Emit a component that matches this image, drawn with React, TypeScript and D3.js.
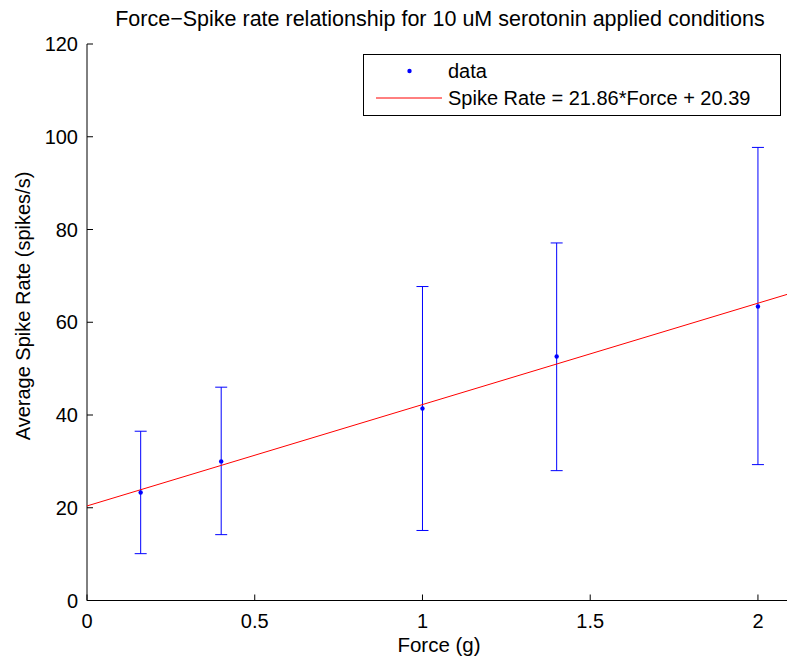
import React from "react";
import * as d3 from "d3";

const forces = [0.16, 0.4, 1.0, 1.4, 2.0];
const meanRates = [23.3, 30.0, 41.4, 52.6, 63.4];
const upperRates = [36.5, 46.0, 67.7, 77.1, 97.7];
const lowerRates = [10.1, 14.2, 15.1, 28.0, 29.3];
const slope = 21.86;
const intercept = 20.39;
const xTicks = [0, 0.5, 1, 1.5, 2];
const yTicks = [0, 20, 40, 60, 80, 100, 120];

const W = 787;
const H = 662;
const left = 87;
const right = 791.5;
const top = 44;
const bottom = 600.5;
const font = "'Liberation Sans', Arial, sans-serif";
const fs = 20;

export default function App() {
  const x = d3.scaleLinear().domain([0, 2.1]).range([left, right]);
  const y = d3.scaleLinear().domain([0, 120]).range([bottom, top]);
  const line = d3
    .line<number>()
    .x((d) => x(d))
    .y((d) => y(slope * d + intercept));
  const capW = 6;
  return (
    <svg
      width={W}
      height={H}
      style={{ position: "absolute", left: 0, top: 0, background: "#fff" }}
      fontFamily={font}
    >
      <rect x={0} y={0} width={W} height={H} fill="#fff" />
      <text x={440} y={26} textAnchor="middle" fontSize={21.5} fill="#000">
        Force−Spike rate relationship for 10 uM serotonin applied conditions
      </text>
      {/* axes */}
      <line x1={left} x2={right} y1={bottom} y2={bottom} stroke="#000" strokeWidth={1} />
      <line x1={left} x2={left} y1={top} y2={bottom} stroke="#000" strokeWidth={1} />
      {xTicks.map((t) => (
        <g key={"x" + t}>
          <line x1={x(t)} x2={x(t)} y1={bottom} y2={bottom - 6} stroke="#000" />
          <text x={x(t)} y={bottom + 27} textAnchor="middle" fontSize={fs}>
            {t}
          </text>
        </g>
      ))}
      {yTicks.map((t) => (
        <g key={"y" + t}>
          <line x1={left} x2={left + 6} y1={y(t)} y2={y(t)} stroke="#000" />
          <text x={left - 9} y={y(t) + 7} textAnchor="end" fontSize={fs}>
            {t}
          </text>
        </g>
      ))}
      <text x={439} y={652} textAnchor="middle" fontSize={20.5}>
        Force (g)
      </text>
      <text
        transform={`translate(30,${306}) rotate(-90)`}
        textAnchor="middle"
        fontSize={fs}
      >
        Average Spike Rate (spikes/s)
      </text>
      {/* error bars */}
      {forces.map((f, i) => (
        <g key={"e" + i} stroke="#0000ff" strokeWidth={1}>
          <line x1={x(f)} x2={x(f)} y1={y(upperRates[i])} y2={y(lowerRates[i])} />
          <line x1={x(f) - capW} x2={x(f) + capW} y1={y(upperRates[i])} y2={y(upperRates[i])} />
          <line x1={x(f) - capW} x2={x(f) + capW} y1={y(lowerRates[i])} y2={y(lowerRates[i])} />
        </g>
      ))}
      {/* fit line */}
      <path d={line([0, 2.1]) || ""} fill="none" stroke="#ff0000" strokeWidth={1} />
      {forces.map((f, i) => (
        <circle key={"p" + i} cx={x(f)} cy={y(meanRates[i])} r={2.2} fill="#0000ff" />
      ))}
      {/* legend */}
      <rect x={363.5} y={54.5} width={417} height={61} fill="#fff" stroke="#000" strokeWidth={1} />
      <circle cx={409.5} cy={71} r={2.2} fill="#0000ff" />
      <text x={448} y={78} fontSize={fs}>
        data
      </text>
      <line x1={376} x2={442} y1={98} y2={98} stroke="#ff0000" strokeWidth={1} />
      <text x={448} y={105} fontSize={fs}>
        Spike Rate = 21.86*Force + 20.39
      </text>
    </svg>
  );
}
